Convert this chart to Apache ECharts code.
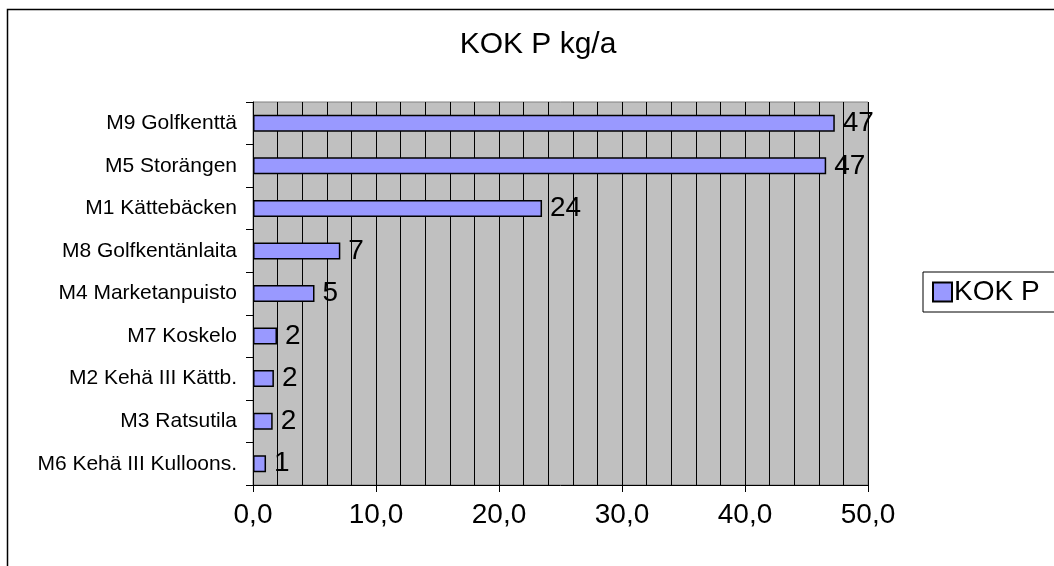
<!DOCTYPE html>
<html>
<head>
<meta charset="utf-8">
<script src="https://cdn.jsdelivr.net/npm/echarts@6/dist/echarts.min.js"></script>
<style>
  html, body { margin: 0; padding: 0; background: #fff; }
  #chart { width: 1054px; height: 566px; }
</style>
</head>
<body>
<div id="chart"></div>
<script>
// Phosphorus load per catchment (kg/a), listed top to bottom
const sites = [
  'M9 Golfkenttä',
  'M5 Storängen',
  'M1 Kättebäcken',
  'M8 Golfkentänlaita',
  'M4 Marketanpuisto',
  'M7 Koskelo',
  'M2 Kehä III Kättb.',
  'M3 Ratsutila',
  'M6 Kehä III Kulloons.'
];
const kokP = [47.3, 46.6, 23.5, 7.1, 5.0, 1.95, 1.7, 1.6, 1.06];
const seriesName = 'KOK P';
const chartTitle = 'KOK P kg/a';

const FONT = '"Liberation Sans", Arial, sans-serif';

const chart = echarts.init(document.getElementById('chart'));
chart.setOption({
  animation: false,
  backgroundColor: '#ffffff',
  textStyle: { fontFamily: FONT, color: '#000' },
  graphic: [
    {
      type: 'rect',
      shape: { x: 7.5, y: 9.5, width: 2000, height: 2000 },
      style: { fill: 'none', stroke: '#000', lineWidth: 1.5 },
      z: 0
    },
    {
      type: 'text',
      x: 538, y: 45,
      style: {
        text: chartTitle,
        font: '30px ' + FONT,
        fill: '#000',
        textAlign: 'center',
        textVerticalAlign: 'middle'
      }
    }
  ],
  legend: {
    data: [seriesName],
    left: 923,
    top: 272,
    orient: 'vertical',
    itemWidth: 19,
    itemHeight: 19,
    padding: [6, 20, 6, 9],
    borderColor: '#000',
    borderWidth: 1,
    icon: 'rect',
    textStyle: { fontSize: 28, fontFamily: FONT, color: '#000', padding: [0, 0, 0, -3] }
  },
  grid: {
    left: 253,
    right: 186,
    top: 102,
    bottom: 81,
    show: true,
    backgroundColor: '#C0C0C0',
    borderColor: '#808080',
    borderWidth: 1,
    containLabel: false
  },
  xAxis: {
    type: 'value',
    min: 0,
    max: 50,
    interval: 10,
    axisLine: { show: true, lineStyle: { color: '#000', width: 1 } },
    axisTick: { show: true, length: 7, lineStyle: { color: '#000' } },
    axisLabel: {
      fontSize: 28,
      fontFamily: FONT,
      color: '#000',
      margin: 16,
      formatter: v => v.toFixed(1).replace('.', ',')
    },
    splitLine: { show: true, lineStyle: { color: '#000', width: 1 } },
    minorTick: { show: false, splitNumber: 5 },
    minorSplitLine: { show: true, lineStyle: { color: '#000', width: 1 } }
  },
  yAxis: {
    type: 'category',
    data: sites,
    inverse: true,
    axisLine: { show: true, lineStyle: { color: '#000', width: 1 } },
    axisTick: { show: true, length: 7, lineStyle: { color: '#000' } },
    axisLabel: { fontSize: 21, fontFamily: FONT, color: '#000', margin: 16 },
    splitLine: { show: false }
  },
  series: [{
    name: seriesName,
    type: 'bar',
    data: kokP,
    barWidth: 17,
    itemStyle: { color: '#9999FF', borderColor: '#000', borderWidth: 1.5 },
    label: {
      show: true,
      position: 'right',
      distance: 8,
      fontSize: 28,
      fontFamily: FONT,
      color: '#000',
      formatter: p => Math.round(p.value)
    }
  }]
});
</script>
</body>
</html>
